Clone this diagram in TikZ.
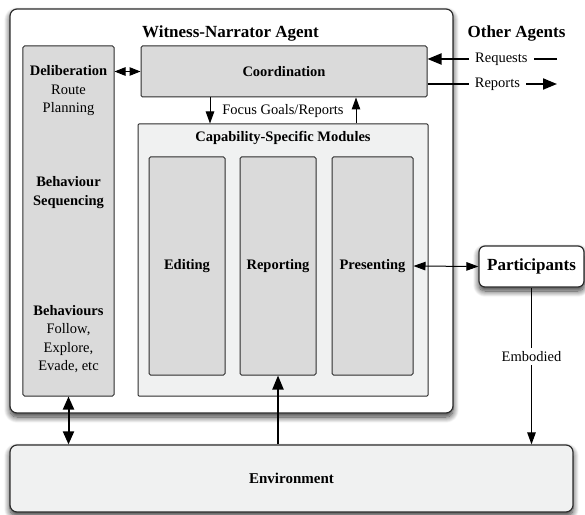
\documentclass[tikz,border=0pt]{standalone}
\usepackage{fontspec}
\setmainfont{Liberation Serif}
\usepackage{tikz}
\usetikzlibrary{arrows.meta,shadows,shadows.blur}
\definecolor{boxgray}{RGB}{218,218,218}
\definecolor{panegray}{RGB}{240,241,241}
\definecolor{linegray}{RGB}{45,45,45}

\begin{document}
\begin{tikzpicture}[x=1bp,y=-1bp]
	\tikzstyle{every node}=[font=\fontsize{14.5bp}{18.5bp}\selectfont, inner sep=0pt]
	\tikzstyle{outerbox}=[draw=linegray, line width=1.2bp, rounded corners=7bp, blur shadow={shadow xshift=0bp, shadow yshift=-4bp, shadow blur radius=6bp, shadow blur steps=12, shadow opacity=80}]
	\tikzstyle{modbox}=[draw=linegray, line width=1bp, fill=boxgray, rounded corners=1.5bp]
	\tikzstyle{pane}=[draw=linegray, line width=1bp, fill=panegray, rounded corners=1bp]
	\tikzstyle{title}=[font=\fontsize{17bp}{20bp}\selectfont\bfseries]
	\tikzstyle{link}=[line width=1bp, -{Triangle[length=12bp,width=8.5bp]}]
	\tikzstyle{biglink}=[line width=2bp, -{Triangle[length=14bp,width=11bp]}]
	\tikzstyle{tag}=[fill=white, inner xsep=6bp, inner ysep=3bp]
	
	%%Witness-Narrator agent
	\useasboundingbox (0,0) rectangle (585,515);
	\node [outerbox, fill=white, minimum width=443bp, minimum height=404bp]  (agent) at (231.5,211)  {};
	\node [title]  (agenttitle) at (230.5,33)  {Witness-Narrator Agent};
	\node [modbox, minimum width=91bp, minimum height=350bp]  (behav) at (68.5,221)  {};
	\node [align=center]  (delib) at (68.5,91)  {\textbf{Deliberation}\\Route\\Planning};
	\node [align=center, font=\fontsize{14.5bp}{18.5bp}\selectfont\bfseries]  (seq) at (68.5,192.5)  {Behaviour\\Sequencing};
	\node [align=center]  (behaviours) at (68.5,339)  {\textbf{Behaviours}\\Follow,\\Explore,\\Evade, etc};
	\node [modbox, minimum width=286bp, minimum height=51bp]  (coord) at (284,71.5)  {\textbf{Coordination}};
	\node [pane, minimum width=290bp, minimum height=272bp]  (caps) at (283,260)  {};
	\node [font=\fontsize{14.5bp}{18.5bp}\selectfont\bfseries]  (capstitle) at (283,138)  {Capability-Specific Modules};
	\node [modbox, minimum width=76bp, minimum height=218bp]  (edit) at (187,266)  {\textbf{Editing}};
	\node [modbox, minimum width=76bp, minimum height=218bp]  (report) at (278,266)  {\textbf{Reporting}};
	\node [modbox, minimum width=81bp, minimum height=218bp]  (present) at (372.5,266)  {\textbf{Presenting}};
	\node  (focus) at (283,111)  {Focus Goals/Reports};
	
	%%outside the agent
	\node [title]  (others) at (516.5,33)  {Other Agents};
	\coordinate (reqend) at (557,59);
	\coordinate (repend) at (557,84);
	\node [outerbox, fill=white, rounded corners=6bp, minimum width=105bp, minimum height=41bp, title]  (partic) at (531.5,266.5)  {Participants};
	\node [outerbox, fill=panegray, minimum width=563bp, minimum height=67bp, font=\fontsize{15bp}{18bp}\selectfont\bfseries]  (env) at (291.5,478.5)  {Environment};
	
	%%connectors
	\draw [line width=1bp, {Triangle[length=11bp,width=8.5bp]}-{Triangle[length=11bp,width=8.5bp]}]  (behav.east |- coord.west) -- (coord.west);
	\draw [link]  (210,0 |- coord.south) -- (210,0 |- caps.north);
	\draw [link]  (356,0 |- caps.north) -- (356,0 |- coord.south);
	\draw [biglink]  (reqend) -- node [tag, pos=0.43] {Requests} (coord.east |- reqend);
	\draw [biglink]  (coord.east |- repend) -- node [tag, pos=0.54] {Reports} (repend);
	\draw [line width=1bp, {Triangle[length=12bp,width=8.5bp]}-{Triangle[length=12bp,width=8.5bp]}]  (present.east) -- (partic.west);
	\draw [link]  (partic.south) -- node [tag, pos=0.44] {Embodied} (partic.south |- env.north);
	\draw [line width=2bp, {Triangle[length=13bp,width=11bp]}-{Triangle[length=13bp,width=11bp]}]  (behav.south) -- (behav.south |- env.north);
	\draw [biglink]  (report.south |- env.north) -- (report.south);

\end{tikzpicture}
\end{document}
